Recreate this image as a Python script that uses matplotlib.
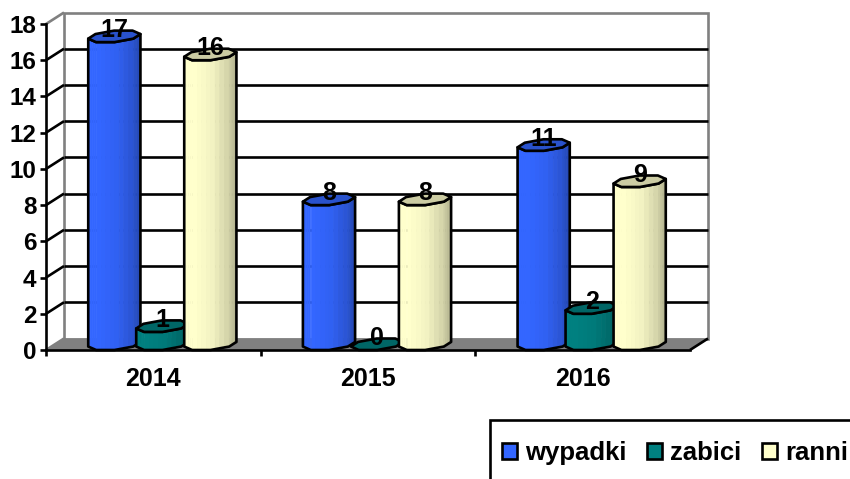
#!/usr/bin/env python3
"""Pseudo 3D column chart: wypadki, zabici, ranni 2014-2016"""

import matplotlib
matplotlib.use('Agg')
import matplotlib.pyplot as plt
from matplotlib.patches import Patch, Polygon, Rectangle
from matplotlib.colors import to_rgb

plt.rcParams['font.family'] = ['Liberation Sans', 'DejaVu Sans']
plt.rcParams['font.weight'] = 'bold'

years = ['2014', '2015', '2016']
wypadki = [17, 8, 11]
zabici = [1, 0, 2]
ranni = [16, 8, 9]
y_ticks = [0, 2, 4, 6, 8, 10, 12, 14, 16, 18]
series_names = ['wypadki', 'zabici', 'ranni']

W, H = 850, 479
LEFT, RIGHT, TOP, BOTTOM = 46, 690, 24, 350
DEPTH_X, DEPTH_Y = 18, 11.5
LW = 1.9

fig = plt.figure(figsize=(W / 100, H / 100), dpi=100)
ax = fig.add_axes([LEFT / W, 1 - BOTTOM / H, (RIGHT - LEFT) / W, (BOTTOM - TOP) / H])
ax.set_xlim(0, len(years))
ax.set_ylim(0, y_ticks[-1])
ax.patch.set_visible(False)

# pixel sizes converted to axis units
unit_x = (RIGHT - LEFT) / len(years)
unit_y = (BOTTOM - TOP) / y_ticks[-1]
dx = DEPTH_X / unit_x
dy = DEPTH_Y / unit_y
half_w = 22.5 / unit_x
spacing = 48 / unit_x


def proj(x, v, d=0.0):
    """Move a point from the front plane towards the back wall"""
    return x + d * dx, v + d * dy


def poly(pts, **kw):
    p = Polygon(pts, closed=True, clip_on=False, **kw)
    ax.add_patch(p)
    return p


def line(p0, p1, color='black', lw=LW, z=1):
    ax.plot([p0[0], p1[0]], [p0[1], p1[1]], color=color, lw=lw, clip_on=False,
            solid_capstyle='butt', zorder=z)


def shade(color, f):
    return tuple(c * f for c in to_rgb(color))


# Back wall, floor and grid
top = y_ticks[-1]
n = len(years)
poly([proj(0, 0, 1), proj(n, 0, 1), proj(n, top, 1), proj(0, top, 1)],
     facecolor='white', edgecolor='#808080', lw=LW, zorder=0.5)
poly([proj(0, 0), proj(n, 0), proj(n, 0, 1), proj(0, 0, 1)],
     facecolor='#808080', edgecolor='none', zorder=0.6)
for t in y_ticks[1:-1]:
    line(proj(0, t, 1), proj(n, t, 1), z=0.7)
    line(proj(0, t), proj(0, t, 1), z=0.7)
line(proj(0, top), proj(0, top, 1), color='#808080', z=0.7)
line(proj(0, 0), proj(0, 0, 1), color='#808080', z=0.7)
line(proj(n, 0), proj(n, 0, 1), z=0.7)

# octagon corners in the footprint: (across, depth)
OCT = [(-1, .3), (-.41, 0), (.41, 0), (1, .3), (1, .7), (.41, 1), (-.41, 1), (-1, .7)]
FACE_SHADES = [(1.0, 1.0), (1.0, .95), (.95, .8), (.8, .68)]


def cylinder(c, v, color, z):
    def pt(corner, val):
        return proj(c + corner[0] * half_w, val, corner[1])

    front = OCT[:5]
    # body, split in thin vertical strips for the shading
    if v > 0:
        for i in range(4):
            a, b = front[i], front[i + 1]
            f0, f1 = FACE_SHADES[i]
            for k in range(4):
                s0, s1 = k / 4, (k + 1) / 4
                ca = (a[0] + (b[0] - a[0]) * s0, a[1] + (b[1] - a[1]) * s0)
                cb = (a[0] + (b[0] - a[0]) * s1, a[1] + (b[1] - a[1]) * s1)
                col = shade(color, f0 + (f1 - f0) * s0)
                poly([pt(ca, 0), pt(cb, 0), pt(cb, v), pt(ca, v)],
                     facecolor=col, edgecolor=col, lw=0.6, zorder=z)
        outline = [pt(p, 0) for p in front] + [pt(p, v) for p in reversed(front)]
        poly(outline, facecolor='none', edgecolor='black', lw=LW, joinstyle='round', zorder=z + 0.1)
    poly([pt(p, v) for p in OCT], facecolor=shade(color, 0.8),
         edgecolor='black', lw=LW, joinstyle='round', zorder=z + 0.1)


colors = ['#3366FF', '#008080', '#FFFFCC']
for s, values in enumerate([wypadki, zabici, ranni]):
    for i, v in enumerate(values):
        c = i + 0.5 + (s - 1) * spacing
        cylinder(c, v, colors[s], 3 + s)
        lx, ly = proj(c, v, 0.45)
        ax.text(lx + 0.5 * dx * 0.1, ly, str(v), ha='center', va='baseline', fontsize=18,
                fontweight='bold', color='black', zorder=10, clip_on=False)

# Axes
for side in ('top', 'right'):
    ax.spines[side].set_visible(False)
for side in ('left', 'bottom'):
    ax.spines[side].set_linewidth(LW)
    ax.spines[side].set_zorder(2)
ax.set_yticks(y_ticks)
ax.set_yticklabels([str(t) for t in y_ticks], fontsize=17.5, fontweight='bold')
ax.tick_params(axis='y', length=4.5, width=LW, pad=2.5)
ax.set_xticks(range(n))
ax.set_xticklabels([])
ax.set_xticks([i + 0.5 for i in range(n)], minor=True)
ax.set_xticklabels(years, minor=True, fontsize=18, fontweight='bold')
ax.tick_params(axis='x', which='major', length=4.5, width=LW)
ax.tick_params(axis='x', which='minor', length=0, pad=12)

# Legend box runs off the picture at the right and bottom
fig.add_artist(Rectangle((490 / W, -0.02), 380 / W, 1 - 420 / H + 0.02, transform=fig.transFigure,
                         facecolor='white', edgecolor='black', lw=LW))
handles = [Patch(facecolor=col, edgecolor='black', lw=LW) for col in colors]
fig.legend(handles, series_names, loc='center left', bbox_to_anchor=(502 / W, 1 - 453 / H),
           ncol=3, frameon=False, fontsize=18.5, handlelength=0.58, handleheight=0.58,
           handletextpad=0.32, columnspacing=0.8, borderpad=0, borderaxespad=0)

plt.savefig('out.png', dpi=100)
plt.close()
